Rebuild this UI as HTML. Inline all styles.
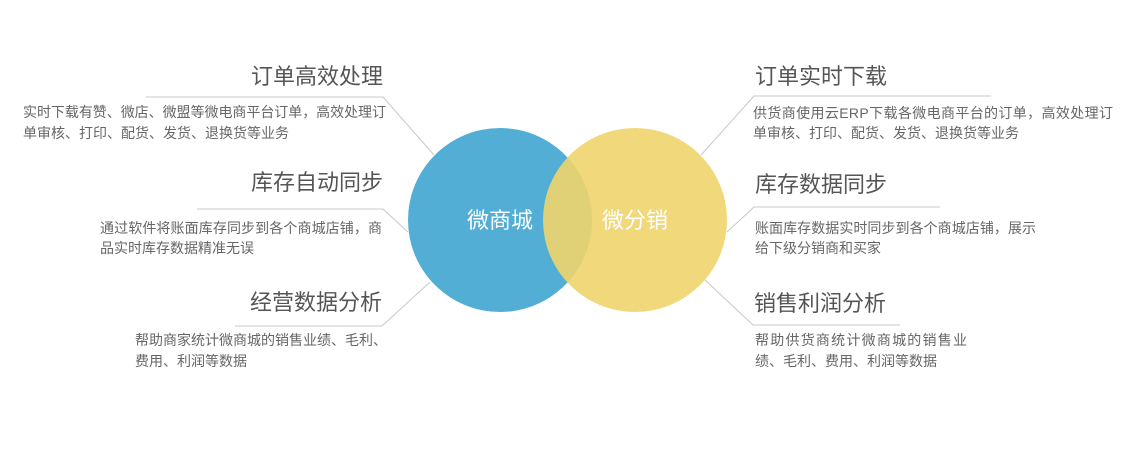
<!DOCTYPE html>
<html><head><meta charset="utf-8"><style>
body{margin:0;background:#fff;}
svg{display:block;font-family:"Liberation Sans","Noto Sans CJK SC",sans-serif;}
.t{font-size:22px;fill:#555;}
.d{font-size:14px;fill:#666;}
.l{stroke:#c8c8c8;stroke-width:1;fill:none;}
</style></head><body>
<svg width="1140" height="465" viewBox="0 0 1140 465">
<rect width="1140" height="465" fill="#fff"/>
<circle cx="500" cy="220" r="92" fill="#52aed4"/>
<circle cx="635" cy="220" r="92" fill="#f0d46c" fill-opacity="0.9"/>
<text x="500" y="228" text-anchor="middle" font-size="22" fill="#fff">微商城</text>
<text x="635" y="228" text-anchor="middle" font-size="22" fill="#fff">微分销</text>

<polyline class="l" points="146,97 383,97 434,155"/>
<polyline class="l" points="197,209 383,209 408,232"/>
<polyline class="l" points="235,326 382,326 430,282"/>
<polyline class="l" points="991,96 754,96 701,155"/>
<polyline class="l" points="940,207 754,207 727,232"/>
<polyline class="l" points="900,325 753,325 705,280"/>

<text class="t" x="383" y="84" text-anchor="end">订单高效处理</text>
<text class="d" x="23" y="117" textLength="363">实时下载有赞、微店、微盟等微电商平台订单，高效处理订</text>
<text class="d" x="23" y="138">单审核、打印、配货、发货、退换货等业务</text>

<text class="t" x="383" y="190" text-anchor="end">库存自动同步</text>
<text class="d" x="100" y="233" textLength="282">通过软件将账面库存同步到各个商城店铺，商</text>
<text class="d" x="100" y="253">品实时库存数据精准无误</text>

<text class="t" x="382" y="310" text-anchor="end">经营数据分析</text>
<text class="d" x="135" y="345" textLength="252">帮助商家统计微商城的销售业绩、毛利、</text>
<text class="d" x="135" y="366">费用、利润等数据</text>

<text class="t" x="755" y="84">订单实时下载</text>
<text class="d" x="753" y="118" textLength="360">供货商使用云ERP下载各微电商平台的订单，高效处理订</text>
<text class="d" x="753" y="138">单审核、打印、配货、发货、退换货等业务</text>

<text class="t" x="755" y="192">库存数据同步</text>
<text class="d" x="755" y="233" textLength="281">账面库存数据实时同步到各个商城店铺，展示</text>
<text class="d" x="755" y="253">给下级分销商和买家</text>

<text class="t" x="754" y="311">销售利润分析</text>
<text class="d" x="755" y="345" textLength="212">帮助供货商统计微商城的销售业</text>
<text class="d" x="755" y="366">绩、毛利、费用、利润等数据</text>
</svg>
</body></html>
